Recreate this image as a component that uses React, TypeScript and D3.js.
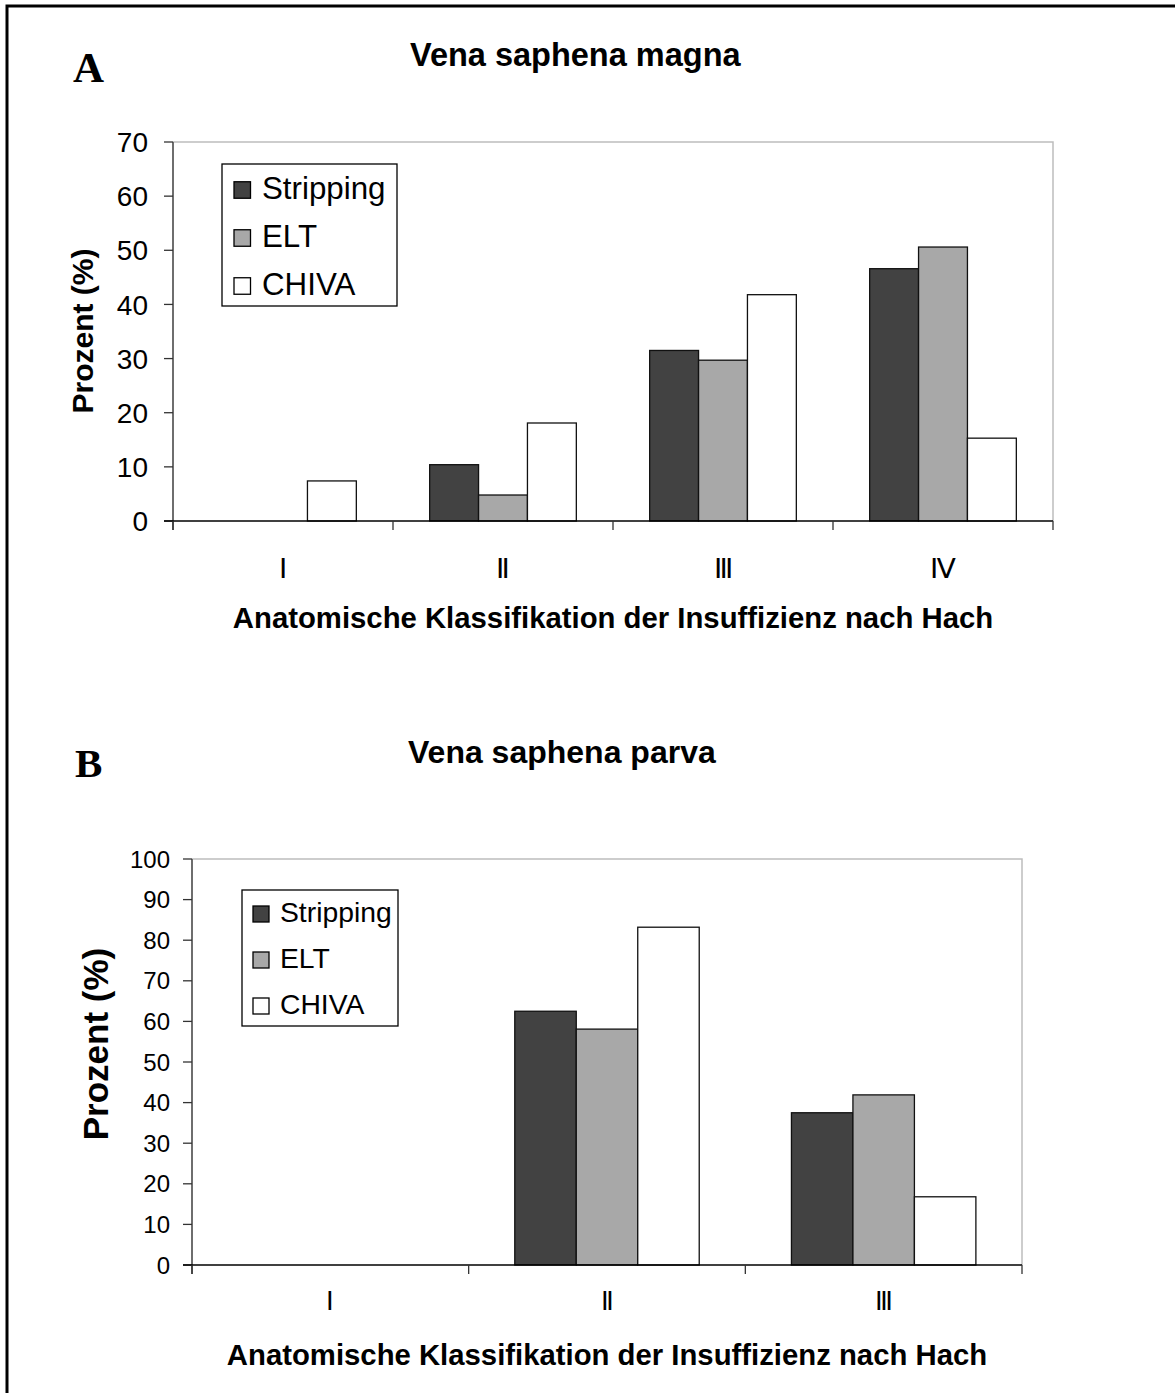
import React from 'react';
import * as d3 from 'd3';

// Panel A: Vena saphena magna
const categoriesA = ['Ⅰ', 'Ⅱ', 'Ⅲ', 'Ⅳ'];
const strippingA = [0, 10.4, 31.5, 46.6];
const eltA = [0, 4.8, 29.7, 50.6];
const chivaA = [7.4, 18.1, 41.8, 15.3];
const ticksA = [0, 10, 20, 30, 40, 50, 60, 70];

// Panel B: Vena saphena parva
const categoriesB = ['Ⅰ', 'Ⅱ', 'Ⅲ'];
const strippingB = [0, 62.5, 37.5];
const eltB = [0, 58.1, 41.9];
const chivaB = [0, 83.2, 16.8];
const ticksB = [0, 10, 20, 30, 40, 50, 60, 70, 80, 90, 100];

const seriesNames = ['Stripping', 'ELT', 'CHIVA'];
const seriesColors = ['#424242', '#a8a8a8', '#ffffff'];

const SANS = '"Liberation Sans", Arial, Helvetica, sans-serif';
const SERIF = '"Liberation Serif", "Times New Roman", serif';

type Layout = {
  letter: string;
  letterX: number;
  letterY: number;
  letterSize: number;
  title: string;
  titleX: number;
  titleY: number;
  titleSize: number;
  left: number;
  right: number;
  top: number;
  bottom: number;
  tickFont: number;
  tickGap: number;
  catLabelY: number;
  catFont: number;
  xTitleY: number;
  yTitleX: number;
  yTitleY: number;
  yTitleFont: number;
  legend: { x: number; y: number; w: number; h: number; sq: number; sqX: number; rows: number[]; textX: number; font: number };
};

const Panel = ({ cats, values, ticks, L }: { cats: string[]; values: number[][]; ticks: number[]; L: Layout }) => {
  const x = d3.scaleBand<string>().domain(cats).range([L.left, L.right]).paddingInner(0).paddingOuter(0);
  const inner = d3.scaleBand<string>().domain(seriesNames).range([0, x.bandwidth()]).paddingInner(0).paddingOuter(0.75);
  const y = d3.scaleLinear().domain([0, ticks[ticks.length - 1]]).range([L.bottom, L.top]);
  const tickLen = 9;
  const bounds = [...cats.map(c => x(c) as number), L.right];

  return (
    <g>
      <text x={L.letterX} y={L.letterY} fontFamily={SERIF} fontWeight="bold" fontSize={L.letterSize}>{L.letter}</text>
      <text x={L.titleX} y={L.titleY} fontFamily={SANS} fontWeight="bold" fontSize={L.titleSize}>{L.title}</text>

      {/* plot border top/right */}
      <path d={`M${L.left},${L.top}H${L.right}V${L.bottom}`} fill="none" stroke="#bdbdbd" strokeWidth={1.5} />

      {/* bars */}
      {cats.map((c, i) => (
        <g key={c} transform={`translate(${x(c)},0)`}>
          {seriesNames.map((s, j) => {
            const v = values[j][i];
            if (v <= 0) return null;
            return (
              <rect key={s} x={inner(s)} y={y(v)} width={inner.bandwidth()} height={y(0) - y(v)}
                fill={seriesColors[j]} stroke="#111" strokeWidth={1.3} />
            );
          })}
        </g>
      ))}

      {/* y axis */}
      <line x1={L.left} x2={L.left} y1={L.top} y2={L.bottom + tickLen} stroke="#6e6e6e" strokeWidth={2} />
      {ticks.map(t => (
        <g key={t}>
          <line x1={L.left - tickLen} x2={L.left} y1={y(t)} y2={y(t)} stroke="#333" strokeWidth={1.3} />
          <text x={L.left - L.tickGap} y={y(t) + 0.36 * L.tickFont} textAnchor="end" fontFamily={SANS} fontSize={L.tickFont}>{t}</text>
        </g>
      ))}

      {/* x axis */}
      <line x1={L.left - tickLen} x2={L.right} y1={L.bottom} y2={L.bottom} stroke="#000" strokeWidth={1.6} />
      {bounds.map((b, i) => (
        <line key={i} x1={b} x2={b} y1={L.bottom} y2={L.bottom + tickLen} stroke="#333" strokeWidth={1.3} />
      ))}
      {cats.map(c => (
        <text key={c} x={(x(c) as number) + x.bandwidth() / 2} y={L.catLabelY} textAnchor="middle"
          fontFamily={SANS} fontSize={L.catFont}>{c}</text>
      ))}
      <text x={(L.left + L.right) / 2} y={L.xTitleY} textAnchor="middle" fontFamily={SANS} fontWeight="bold" fontSize={29.3}>
        Anatomische Klassifikation der Insuffizienz nach Hach
      </text>
      <text transform={`translate(${L.yTitleX},${L.yTitleY}) rotate(-90)`} textAnchor="middle" fontFamily={SANS}
        fontWeight="bold" fontSize={L.yTitleFont}>Prozent (%)</text>

      {/* legend */}
      <rect x={L.legend.x} y={L.legend.y} width={L.legend.w} height={L.legend.h} fill="#fff" stroke="#000" strokeWidth={1.3} />
      {seriesNames.map((s, j) => (
        <g key={s}>
          <rect x={L.legend.sqX} y={L.legend.rows[j] - L.legend.sq / 2} width={L.legend.sq} height={L.legend.sq}
            fill={seriesColors[j]} stroke="#000" strokeWidth={1.3} />
          <text x={L.legend.textX} y={L.legend.rows[j] + 0.28 * L.legend.font} fontFamily={SANS} fontSize={L.legend.font}>{s}</text>
        </g>
      ))}
    </g>
  );
};

const layoutA: Layout = {
  letter: 'A', letterX: 73, letterY: 82, letterSize: 43,
  title: 'Vena saphena magna', titleX: 410, titleY: 66, titleSize: 32.5,
  left: 173, right: 1053, top: 142, bottom: 521,
  tickFont: 28, tickGap: 25,
  catLabelY: 578, catFont: 28,
  xTitleY: 628,
  yTitleX: 93, yTitleY: 331, yTitleFont: 30,
  legend: { x: 222, y: 164, w: 175, h: 142, sq: 16.5, sqX: 234, rows: [190, 238, 286], textX: 262, font: 31.3 },
};

const layoutB: Layout = {
  letter: 'B', letterX: 75, letterY: 777, letterSize: 41,
  title: 'Vena saphena parva', titleX: 408, titleY: 763, titleSize: 32,
  left: 192, right: 1022, top: 859, bottom: 1265,
  tickFont: 24, tickGap: 22,
  catLabelY: 1310, catFont: 26,
  xTitleY: 1365,
  yTitleX: 108, yTitleY: 1044, yTitleFont: 35,
  legend: { x: 242, y: 890, w: 156, h: 136, sq: 16, sqX: 253, rows: [914, 960, 1006], textX: 280, font: 28.3 },
};

export default function App() {
  return (
    <svg width={1175} height={1393} style={{ position: 'absolute', left: 0, top: 0, background: '#fff' }}>
      <rect x={0} y={0} width={1175} height={1393} fill="#fff" />
      {/* outer frame, cropped at right/bottom */}
      <path d="M7,1400V6H1180" fill="none" stroke="#000" strokeWidth={3} />
      <Panel cats={categoriesA} values={[strippingA, eltA, chivaA]} ticks={ticksA} L={layoutA} />
      <Panel cats={categoriesB} values={[strippingB, eltB, chivaB]} ticks={ticksB} L={layoutB} />
    </svg>
  );
}
